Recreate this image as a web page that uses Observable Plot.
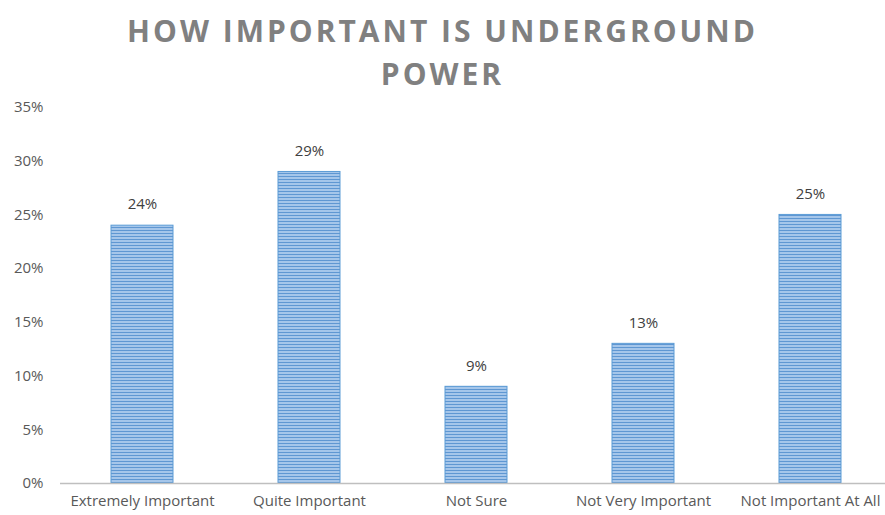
<!DOCTYPE html>
<html>
<head>
<meta charset="utf-8">
<script src="https://cdn.jsdelivr.net/npm/d3@7"></script>
<script src="https://cdn.jsdelivr.net/npm/@observablehq/plot@0.6"></script>
<style>
  body { margin: 0; background: #fff; font-family: "Open Sans", sans-serif; }
  #title {
    height: 92px; box-sizing: border-box; padding-top: 9px;
    text-align: center; font-weight: bold; font-size: 30px; line-height: 43px;
    letter-spacing: 3px; color: #808080; width: 885px;
  }
</style>
</head>
<body>
<div id="title">HOW IMPORTANT IS UNDERGROUND<br>POWER</div>
<div id="chart"></div>
<script>
const categories = ["Extremely Important", "Quite Important", "Not Sure", "Not Very Important", "Not Important At All"];
const values = [0.24, 0.29, 0.09, 0.13, 0.25];
const yTicks = [0, 0.05, 0.10, 0.15, 0.20, 0.25, 0.30, 0.35];

const data = categories.map((c, i) => ({category: c, value: values[i]}));
const pct = d3.format(".0%");

const chart = Plot.plot({
  width: 885,
  height: 423,
  marginTop: 15,
  marginBottom: 32,
  marginLeft: 60,
  marginRight: 0,
  style: {fontFamily: "Open Sans, sans-serif", fontSize: "15px", color: "#595959", background: "#fff"},
  x: {domain: categories, range: [58.5, 894], paddingInner: 0.63, paddingOuter: 0.315, label: null},
  y: {domain: [0, 0.35], label: null},
  marks: [
    Plot.axisY({ticks: yTicks, tickFormat: pct, tickSize: 0, tickPadding: 17, fill: "#595959", fontSize: 15}),
    Plot.axisX({tickSize: 0, tickPadding: 12, fill: "#595959", fontSize: 15}),
    Plot.barY(data, {x: "category", y: "value", fill: "url(#stripes)", stroke: "#5b9bd5", strokeWidth: 1}),
    Plot.ruleY([0], {stroke: "#bfbfbf", strokeWidth: 1.5}),
    Plot.text(data, {x: "category", y: "value", text: d => pct(d.value), dy: -21, fill: "#404040", fontSize: 15})
  ]
});

const ns = "http://www.w3.org/2000/svg";
const defs = document.createElementNS(ns, "defs");
const pat = document.createElementNS(ns, "pattern");
pat.setAttribute("id", "stripes");
pat.setAttribute("patternUnits", "userSpaceOnUse");
pat.setAttribute("width", "4");
pat.setAttribute("height", "3");
const r1 = document.createElementNS(ns, "rect");
r1.setAttribute("width", "4"); r1.setAttribute("height", "3"); r1.setAttribute("fill", "#a5c6ea");
const r2 = document.createElementNS(ns, "rect");
r2.setAttribute("width", "4"); r2.setAttribute("height", "1"); r2.setAttribute("fill", "#5f97d2");
pat.appendChild(r1); pat.appendChild(r2);
defs.appendChild(pat);
chart.insertBefore(defs, chart.firstChild);

document.getElementById("chart").appendChild(chart);
</script>
</body>
</html>
